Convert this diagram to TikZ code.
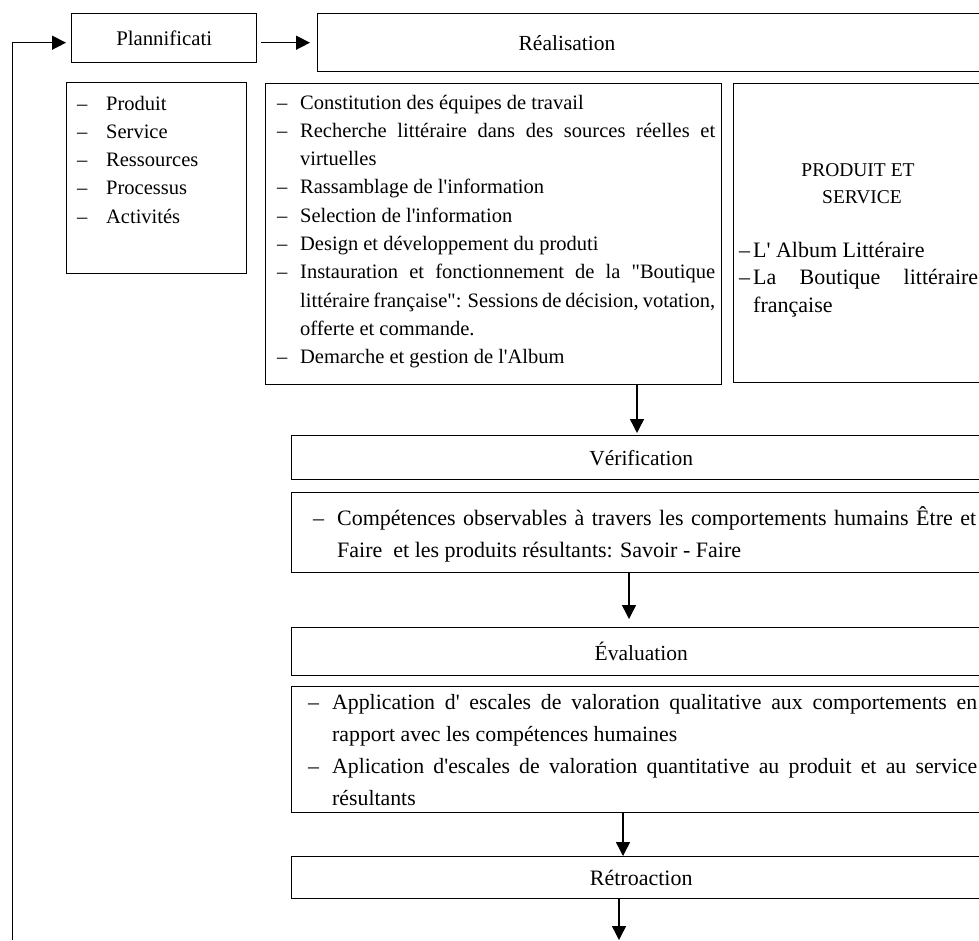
\documentclass[tikz,border=0pt]{standalone}
\usepackage{fontspec}
\setmainfont{Liberation Serif}[Ligatures=TeXOff]
\usetikzlibrary{arrows.meta}
\newcommand\lstitem[2]{\noindent\hangindent=#1\hangafter=1\makebox[#1][l]{–}#2\par}
\begin{document}
\begin{tikzpicture}[x=1pt,y=-1pt,
  box/.style={draw, line width=1.4pt, anchor=north west, inner sep=0pt, font=\fontsize{21.5}{25}\selectfont},
  txt/.style={anchor=base west, inner sep=0pt, align=justify, font=\fontsize{20.5}{28.3}\selectfont},
  lbl/.style={inner sep=0pt, font=\fontsize{21.5}{25}\selectfont},
  arr/.style={line width=1.4pt, -{Triangle[length=14pt,width=14pt]}}]
\useasboundingbox (0,0) rectangle (979,940);
\clip (0,0) rectangle (979,940);

% top row
\node[box, minimum width=185pt, minimum height=49pt, font=\fontsize{20.8}{25}\selectfont] (plan) at (71,13) {Plannificati};
\node[box, minimum width=673pt, minimum height=58pt] (real) at (317,13) {};
\node[lbl, anchor=base] (realtxt) at (567,50) {Réalisation};

% left list
\node[box, minimum width=180pt, minimum height=191pt] (left) at (66,82) {};
\node[txt, align=left, text width=165pt] (lefttxt) at (77,110) {%
\lstitem{29pt}{Produit}
\lstitem{29pt}{Service}
\lstitem{29pt}{Ressources}
\lstitem{29pt}{Processus}
\lstitem{29pt}{Activités}};

% middle list
\node[box, minimum width=456pt, minimum height=301pt] (mid) at (265,83) {};
\node[txt, text width=438pt] (midtxt) at (277,109) {%
\lstitem{23pt}{Constitution des équipes de travail}
\lstitem{23pt}{Recherche littéraire dans des sources réelles et\linebreak virtuelles}
\lstitem{23pt}{Rassamblage de l'information}
\lstitem{23pt}{Selection de l'information}
\lstitem{23pt}{Design et développement du produti}
\lstitem{23pt}{Instauration et fonctionnement de la "Boutique\linebreak littéraire française": Sessions de décision, votation,\linebreak offerte et commande.}
\lstitem{23pt}{Demarche et gestion de l'Album}};

% right box
\node[box, minimum width=257pt, minimum height=299pt] (right) at (733,83) {};
\node[lbl, anchor=base, font=\fontsize{19.5}{25}\selectfont] (prod1) at (858,176) {PRODUIT ET};
\node[lbl, anchor=base, font=\fontsize{19.5}{25}\selectfont] (prod2) at (862,203) {SERVICE};
\node[txt, text width=239pt, font=\fontsize{22}{27.5}\selectfont] (righttxt) at (739,257) {%
\lstitem{14pt}{L' Album Littéraire}
\lstitem{14pt}{La Boutique littéraire\linebreak française}};

% verification
\node[box, minimum width=699pt, minimum height=44pt] (verif) at (291,435) {Vérification};
\node[box, minimum width=699pt, minimum height=80pt] (comp) at (291,492) {};
\node[txt, text width=663pt, font=\fontsize{22}{32}\selectfont] (comptxt) at (313,525) {%
\lstitem{24pt}{Compétences observables à travers les comportements humains Être et\linebreak Faire\ \ et les produits résultants: Savoir - Faire}};

% evaluation
\node[box, minimum width=699pt, minimum height=48pt] (eval) at (291,627) {Évaluation};
\node[box, minimum width=699pt, minimum height=126pt] (appl) at (291,686) {};
\node[txt, text width=669pt, font=\fontsize{21.8}{32}\selectfont] (appltxt) at (308,709) {%
\lstitem{24pt}{Application d' escales de valoration qualitative aux comportements en\linebreak rapport avec les compétences humaines}
\lstitem{24pt}{Aplication d'escales de valoration quantitative au produit et au service\linebreak résultants}};

% retroaction
\node[box, minimum width=699pt, minimum height=42pt, font=\fontsize{22}{25}\selectfont] (retro) at (291,856) {Rétroaction};

% connectors
\coordinate (a1) at (637,0);
\coordinate (a2) at (629,0);
\coordinate (a3) at (623,0);
\coordinate (a4) at (619,0);
\coordinate (endpt) at (619,940);
\coordinate (fb) at (12.7,940);
\draw[arr, shorten <=4pt, shorten >=7pt] (plan.east |- real.west) -- (real.west);
\draw[arr, shorten >=5pt] (fb) |- ([yshift=-4.5pt]plan.west);
\draw[arr, shorten >=2pt] (mid.south -| a1) -- (verif.north -| a1);
\draw[arr, shorten >=8pt] (comp.south -| a2) -- (eval.north -| a2);
\draw[arr] (appl.south -| a3) -- (retro.north -| a3);
\draw[arr] (retro.south -| a4) -- (endpt);
\end{tikzpicture}
\end{document}
